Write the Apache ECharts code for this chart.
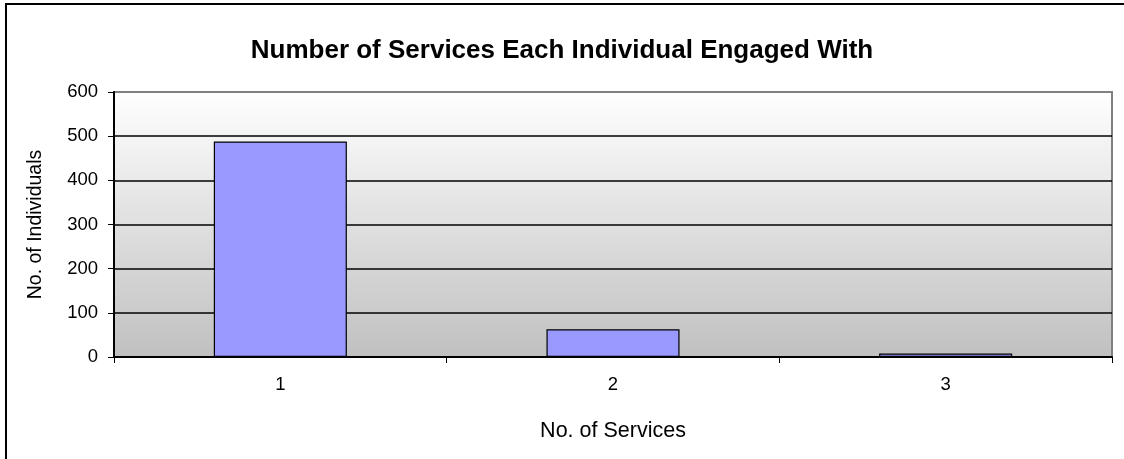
<!DOCTYPE html>
<html>
<head>
<meta charset="utf-8">
<script src="https://cdn.jsdelivr.net/npm/echarts@6/dist/echarts.min.js"></script>
<style>
html,body{margin:0;padding:0;background:#fff;}
#chart{width:1124px;height:459px;}
</style>
</head>
<body>
<div id="chart"></div>
<script>
const titleText = 'Number of Services Each Individual Engaged With';
const categories = ['1', '2', '3'];
const individuals = [488, 63, 8];
const xAxisName = 'No. of Services';
const yAxisName = 'No. of Individuals';

const chart = echarts.init(document.getElementById('chart'), null, {renderer: 'canvas'});
const font = 'Liberation Sans, Arial, sans-serif';
chart.setOption({
  animation: false,
  backgroundColor: '#ffffff',
  title: {
    text: titleText,
    left: 'center',
    top: 33,
    textStyle: {fontFamily: font, fontSize: 26, fontWeight: 'bold', color: '#000'}
  },
  graphic: [{
    type: 'rect',
    shape: {x: 6, y: 4, width: 1140, height: 480},
    style: {fill: 'none', stroke: '#000', lineWidth: 2},
    silent: true
  }],
  grid: {
    left: 114, right: 12, top: 92, bottom: 102,
    show: true,
    borderColor: '#808080',
    borderWidth: 2,
    backgroundColor: {
      type: 'linear', x: 0, y: 0, x2: 0, y2: 1,
      colorStops: [{offset: 0, color: '#ffffff'}, {offset: 1, color: '#c0c0c0'}]
    }
  },
  xAxis: {
    type: 'category',
    data: categories,
    name: xAxisName,
    nameLocation: 'middle',
    nameGap: 63,
    nameTextStyle: {fontFamily: font, fontSize: 21.5, color: '#000'},
    axisLine: {lineStyle: {color: '#000', width: 2}},
    axisTick: {show: true, length: 6, lineStyle: {color: '#000', width: 1}},
    axisLabel: {fontFamily: font, fontSize: 18.5, color: '#000', margin: 18}
  },
  yAxis: {
    type: 'value',
    min: 0, max: 600, interval: 100,
    name: yAxisName,
    nameLocation: 'middle',
    nameGap: 68,
    nameTextStyle: {fontFamily: font, fontSize: 19.5, color: '#000'},
    axisLine: {show: true, lineStyle: {color: '#000', width: 2}},
    axisTick: {show: true, length: 6, lineStyle: {color: '#000', width: 1}},
    axisLabel: {fontFamily: font, fontSize: 18.5, color: '#000', margin: 16},
    splitLine: {show: true, lineStyle: {color: ['#000','#000','#000','#000','#000','#000','#808080'], width: 1.5}}
  },
  series: [{
    type: 'bar',
    data: individuals,
    barWidth: '40%',
    itemStyle: {color: '#9999ff', borderColor: '#000', borderWidth: 1.2}
  }]
});
</script>
</body>
</html>
